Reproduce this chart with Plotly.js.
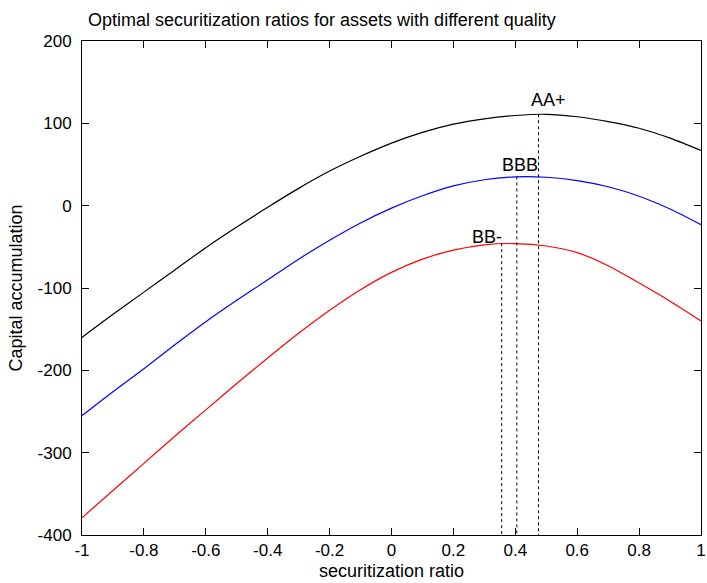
<!DOCTYPE html>
<html>
<head>
<meta charset="utf-8">
<script src="https://cdn.plot.ly/plotly-3.0.1.min.js"></script>
<style>html,body{margin:0;padding:0;background:#fff;}#chart{width:707px;height:583px;}</style>
</head>
<body>
<div id="chart"></div>
<script>
// securitization ratio sample points
var ratio = [-1, -0.9, -0.8, -0.7, -0.6, -0.5, -0.4, -0.3, -0.2, -0.1, 0, 0.1, 0.2, 0.3, 0.4, 0.5, 0.6, 0.7, 0.8, 0.9, 1];
// capital accumulation for each asset quality
var capAA = [-160, -132, -105, -78, -51, -26, -2, 21, 42, 60, 76, 89, 99, 105.5, 109.5, 111, 108, 102, 94, 82, 67];
var capBBB = [-255, -226, -198, -169, -141, -115, -90, -65, -42, -21, -3, 12, 24, 31.5, 35, 34.5, 30.5, 23, 11.5, -4, -23];
var capBBm = [-379, -346, -313, -280, -248, -216, -185, -155, -127, -102, -81, -65, -54, -47.5, -46, -49, -57, -73, -94, -116, -140];
// optimal ratios and their maxima
var ratingLabels = ['AA+', 'BBB', 'BB-'];
var optRatio = [0.475, 0.405, 0.356];
var optCap = [111, 35.5, -45.5];
// tick labels
var xTickVals = [-1, -0.8, -0.6, -0.4, -0.2, 0, 0.2, 0.4, 0.6, 0.8, 1];
var xTickText = ['-1', '-0.8', '-0.6', '-0.4', '-0.2', '0', '0.2', '0.4', '0.6', '0.8', '1'];
var yTickVals = [-400, -300, -200, -100, 0, 100, 200];
var yTickText = ['-400', '-300', '-200', '-100', '0', '100', '200'];

var yMin = -400;
var traces = [
  {x: ratio, y: capAA, mode: 'lines', line: {color: '#000000', width: 1.2, shape: 'spline', smoothing: 0.8}, name: 'AA+'},
  {x: ratio, y: capBBB, mode: 'lines', line: {color: '#0000ff', width: 1.2, shape: 'spline', smoothing: 0.8}, name: 'BBB'},
  {x: ratio, y: capBBm, mode: 'lines', line: {color: '#ff0000', width: 1.2, shape: 'spline', smoothing: 0.8}, name: 'BB-'}
];
for (var i = 0; i < optRatio.length; i++) {
  traces.push({x: [optRatio[i], optRatio[i]], y: [optCap[i], yMin], mode: 'lines',
    line: {color: '#000000', width: 1, dash: '3px,3px'}, name: ratingLabels[i] + ' optimum'});
}
var labelPos = [[0.445, 128], [0.349, 49], [0.253, -38]];
var annotations = ratingLabels.map(function (t, i) {
  return {x: labelPos[i][0], y: labelPos[i][1], xref: 'x', yref: 'y', text: t, showarrow: false,
    xanchor: 'left', yanchor: 'middle', font: {family: 'Liberation Sans, Arial, sans-serif', size: 18, color: '#000'}};
});

var font = {family: 'Liberation Sans, Arial, sans-serif', size: 17, color: '#000'};
var layout = {
  width: 707, height: 583,
  margin: {l: 82, r: 6, t: 41, b: 48, pad: 0},
  paper_bgcolor: '#fff', plot_bgcolor: '#fff',
  showlegend: false,
  font: font,
  title: {text: 'Optimal securitization ratios for assets with different quality',
    font: {family: 'Liberation Sans, Arial, sans-serif', size: 18, color: '#000'},
    xref: 'container', yref: 'container', x: 88 / 707, xanchor: 'left', y: 1 - 20 / 583, yanchor: 'middle'},
  xaxis: {range: [-1, 1], tickvals: xTickVals, ticktext: xTickText, ticks: 'inside', ticklen: 7, tickcolor: '#000',
    showline: true, linecolor: '#000', linewidth: 1, mirror: 'ticks', showgrid: false, zeroline: false,
    tickfont: font, automargin: false, ticklabeloverflow: 'allow',
    title: {text: 'securitization ratio', font: {family: 'Liberation Sans, Arial, sans-serif', size: 18, color: '#000'}, standoff: 4}},
  yaxis: {range: [-400, 200], tickvals: yTickVals, ticktext: yTickText, ticks: 'inside', ticklen: 7, tickcolor: '#000',
    showline: true, linecolor: '#000', linewidth: 1, mirror: 'ticks', showgrid: false, zeroline: false,
    tickfont: font, automargin: false, ticklabelstandoff: 6,
    title: {text: 'Capital accumulation', font: {family: 'Liberation Sans, Arial, sans-serif', size: 18, color: '#000'}, standoff: 10}},
  annotations: annotations
};
Plotly.newPlot('chart', traces, layout, {displayModeBar: false, staticPlot: true});
</script>
</body>
</html>
